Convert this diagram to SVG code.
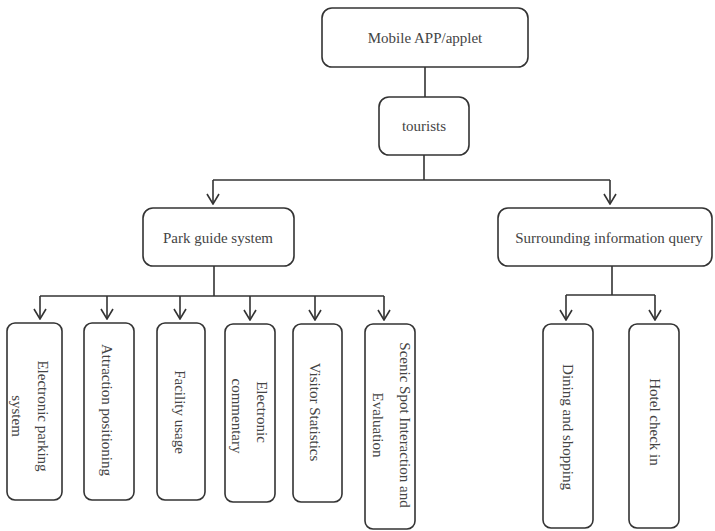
<svg xmlns="http://www.w3.org/2000/svg" width="715" height="531" viewBox="0 0 715 531">
  <defs>
    <style>
      .box { fill: #ffffff; stroke: #333333; stroke-width: 1.6; }
      .wire { fill: none; stroke: #333333; stroke-width: 1.6; }
      .lbl { font-family: "Liberation Serif", "Times New Roman", serif; font-size: 15px; fill: #444444; text-anchor: middle; }
      .vlbl { font-family: "Liberation Serif", "Times New Roman", serif; font-size: 15px; fill: #444444; text-anchor: middle; dominant-baseline: central; }
    </style>
    <marker id="arrow" viewBox="0 0 12 14" refX="11" refY="7" markerWidth="12" markerHeight="14" markerUnits="userSpaceOnUse" orient="auto">
      <path d="M1,1 L11,7 L1,13" fill="none" stroke="#333333" stroke-width="1.6"/>
    </marker>
  </defs>
  <rect width="715" height="531" fill="#ffffff"/>

  <g id="connectors">
    <path class="wire" d="M425,67 V97"/>
    <path class="wire" d="M424,155 V180"/>
    <path class="wire" d="M213,180 H610"/>
    <path class="wire" d="M213,180 V204" marker-end="url(#arrow)"/>
    <path class="wire" d="M610,180 V204" marker-end="url(#arrow)"/>
    <path class="wire" d="M214,266 V296"/>
    <path class="wire" d="M40,296 H384"/>
    <path class="wire" d="M40,296 V319" marker-end="url(#arrow)"/>
    <path class="wire" d="M107,296 V319" marker-end="url(#arrow)"/>
    <path class="wire" d="M180,296 V319" marker-end="url(#arrow)"/>
    <path class="wire" d="M250,296 V320" marker-end="url(#arrow)"/>
    <path class="wire" d="M315,296 V320" marker-end="url(#arrow)"/>
    <path class="wire" d="M384,296 V320" marker-end="url(#arrow)"/>
    <path class="wire" d="M612,266 V295"/>
    <path class="wire" d="M566,295 H655"/>
    <path class="wire" d="M566,295 V320" marker-end="url(#arrow)"/>
    <path class="wire" d="M655,295 V320" marker-end="url(#arrow)"/>
  </g>

  <g id="mobile-app">
    <rect class="box" x="322" y="8" width="206" height="59" rx="10"/>
    <text class="lbl" x="425" y="43">Mobile APP/applet</text>
  </g>
  <g id="tourists">
    <rect class="box" x="379" y="97" width="90" height="58" rx="10"/>
    <text class="lbl" x="424" y="131">tourists</text>
  </g>
  <g id="park-guide">
    <rect class="box" x="143" y="208" width="151" height="58" rx="10"/>
    <text class="lbl" x="218" y="243">Park guide system</text>
  </g>
  <g id="surrounding-info">
    <rect class="box" x="498" y="208" width="214" height="58" rx="10"/>
    <text class="lbl" x="609" y="243">Surrounding information query</text>
  </g>

  <g id="electronic-parking">
    <rect class="box" x="7" y="323" width="55" height="177" rx="8"/>
    <text class="vlbl" transform="translate(43,416) rotate(90)">Electronic parking</text>
    <text class="vlbl" transform="translate(17,416) rotate(90)">system</text>
  </g>
  <g id="attraction-positioning">
    <rect class="box" x="84" y="323" width="50" height="177" rx="8"/>
    <text class="vlbl" transform="translate(107,410) rotate(90)">Attraction positioning</text>
  </g>
  <g id="facility-usage">
    <rect class="box" x="157" y="323" width="48" height="177" rx="8"/>
    <text class="vlbl" transform="translate(180,412) rotate(90)">Facility usage</text>
  </g>
  <g id="electronic-commentary">
    <rect class="box" x="225" y="324" width="50" height="178" rx="8"/>
    <text class="vlbl" transform="translate(262,412) rotate(90)">Electronic</text>
    <text class="vlbl" transform="translate(237,416) rotate(90)">commentary</text>
  </g>
  <g id="visitor-statistics">
    <rect class="box" x="293" y="324" width="49" height="178" rx="8"/>
    <text class="vlbl" transform="translate(315,412) rotate(90)">Visitor Statistics</text>
  </g>
  <g id="scenic-spot">
    <rect class="box" x="365" y="324" width="50" height="205" rx="8"/>
    <text class="vlbl" transform="translate(405,425) rotate(90)">Scenic Spot Interaction and</text>
    <text class="vlbl" transform="translate(378,425) rotate(90)">Evaluation</text>
  </g>

  <g id="dining-shopping">
    <rect class="box" x="543" y="324" width="50" height="204" rx="8"/>
    <text class="vlbl" transform="translate(568,427) rotate(90)">Dining and shopping</text>
  </g>
  <g id="hotel-check-in">
    <rect class="box" x="629" y="324" width="50" height="204" rx="8"/>
    <text class="vlbl" transform="translate(655,422) rotate(90)">Hotel check in</text>
  </g>
</svg>
